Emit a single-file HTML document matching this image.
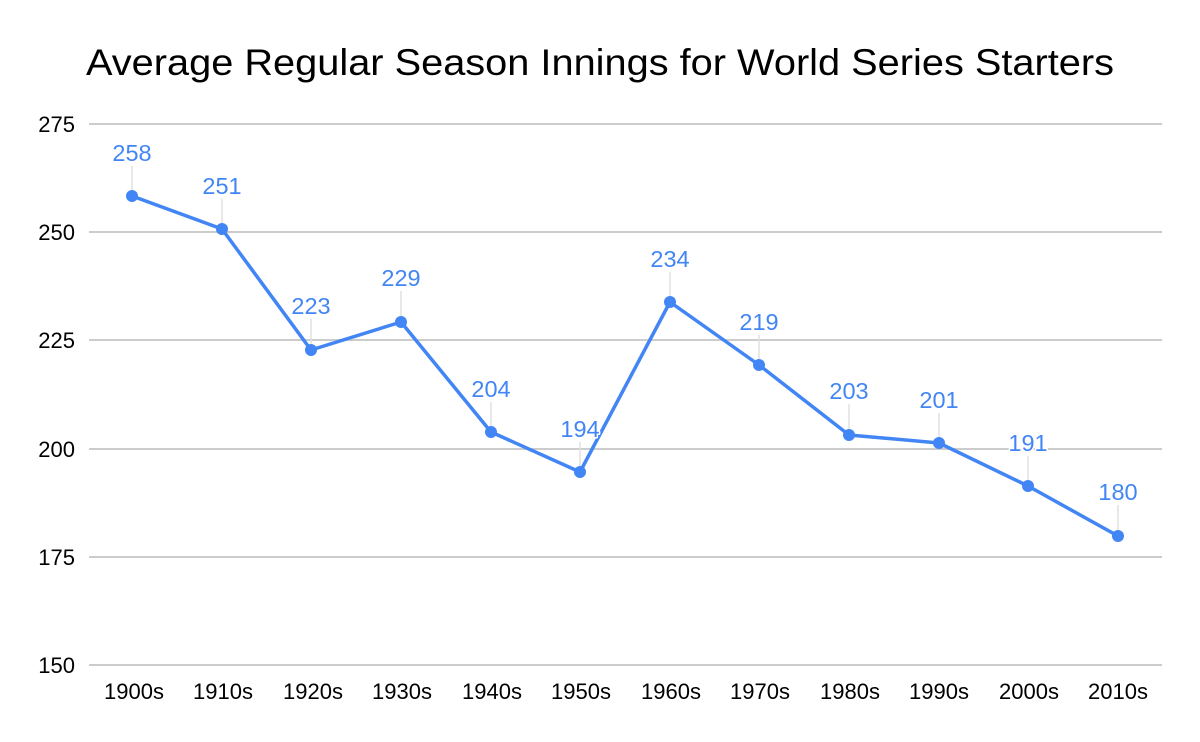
<!DOCTYPE html>
<html><head><meta charset="utf-8"><style>
html,body{margin:0;padding:0;background:#fff;}
svg{display:block;}
text{font-family:"Liberation Sans",Arial,sans-serif;}
</style></head><body>
<svg width="1200" height="742" viewBox="0 0 1200 742" xmlns="http://www.w3.org/2000/svg">
<rect width="1200" height="742" fill="#fff"/>
<text x="600" y="75" font-size="37" text-anchor="middle" fill="#000" textLength="1028" lengthAdjust="spacingAndGlyphs">Average Regular Season Innings for World Series Starters</text>
<g stroke="#cccccc" stroke-width="2">
<line x1="89" x2="1162" y1="124" y2="124"/>
<line x1="89" x2="1162" y1="232" y2="232"/>
<line x1="89" x2="1162" y1="340" y2="340"/>
<line x1="89" x2="1162" y1="449" y2="449"/>
<line x1="89" x2="1162" y1="557" y2="557"/>
<line x1="89" x2="1162" y1="665" y2="665"/>
</g>
<g font-size="22" fill="#000" text-anchor="end">
<text x="75" y="132">275</text>
<text x="75" y="240">250</text>
<text x="75" y="348">225</text>
<text x="75" y="457">200</text>
<text x="75" y="565">175</text>
<text x="75" y="673">150</text>
</g>
<g font-size="22" fill="#000" text-anchor="middle">
<text x="134" y="699">1900s</text>
<text x="223" y="699">1910s</text>
<text x="313" y="699">1920s</text>
<text x="402" y="699">1930s</text>
<text x="492" y="699">1940s</text>
<text x="581" y="699">1950s</text>
<text x="671" y="699">1960s</text>
<text x="760" y="699">1970s</text>
<text x="850" y="699">1980s</text>
<text x="939" y="699">1990s</text>
<text x="1029" y="699">2000s</text>
<text x="1118" y="699">2010s</text>
</g>
<g stroke="#e0e0e0" stroke-width="1.5">
<line x1="132" x2="132" y1="166" y2="190"/>
<line x1="222" x2="222" y1="199" y2="223"/>
<line x1="311" x2="311" y1="319" y2="344"/>
<line x1="401" x2="401" y1="291" y2="316"/>
<line x1="491" x2="491" y1="402" y2="426"/>
<line x1="580" x2="580" y1="442" y2="466"/>
<line x1="670" x2="670" y1="272" y2="296"/>
<line x1="759" x2="759" y1="335" y2="359"/>
<line x1="849" x2="849" y1="404" y2="429"/>
<line x1="939" x2="939" y1="413" y2="437"/>
<line x1="1028" x2="1028" y1="456" y2="480"/>
<line x1="1118" x2="1118" y1="505" y2="530"/>
</g>
<polyline fill="none" stroke="#4285f4" stroke-width="3.5" stroke-linejoin="round" points="132,196 222,229 311,350 401,322 491,432 580,472 670,302 759,365 849,435 939,443 1028,486 1118,536"/>
<g fill="#4285f4">
<circle cx="132" cy="196" r="6"/><circle cx="222" cy="229" r="6"/><circle cx="311" cy="350" r="6"/><circle cx="401" cy="322" r="6"/><circle cx="491" cy="432" r="6"/><circle cx="580" cy="472" r="6"/><circle cx="670" cy="302" r="6"/><circle cx="759" cy="365" r="6"/><circle cx="849" cy="435" r="6"/><circle cx="939" cy="443" r="6"/><circle cx="1028" cy="486" r="6"/><circle cx="1118" cy="536" r="6"/>
</g>
<g font-size="23.5" fill="#4285f4" text-anchor="middle" stroke="#fff" stroke-width="3" paint-order="stroke" stroke-linejoin="round">
<text x="132" y="161">258</text>
<text x="222" y="194">251</text>
<text x="311" y="314">223</text>
<text x="401" y="286">229</text>
<text x="491" y="397">204</text>
<text x="580" y="437">194</text>
<text x="670" y="267">234</text>
<text x="759" y="330">219</text>
<text x="849" y="399">203</text>
<text x="939" y="408">201</text>
<text x="1028" y="451">191</text>
<text x="1118" y="500">180</text>
</g>
</svg>
</body></html>
